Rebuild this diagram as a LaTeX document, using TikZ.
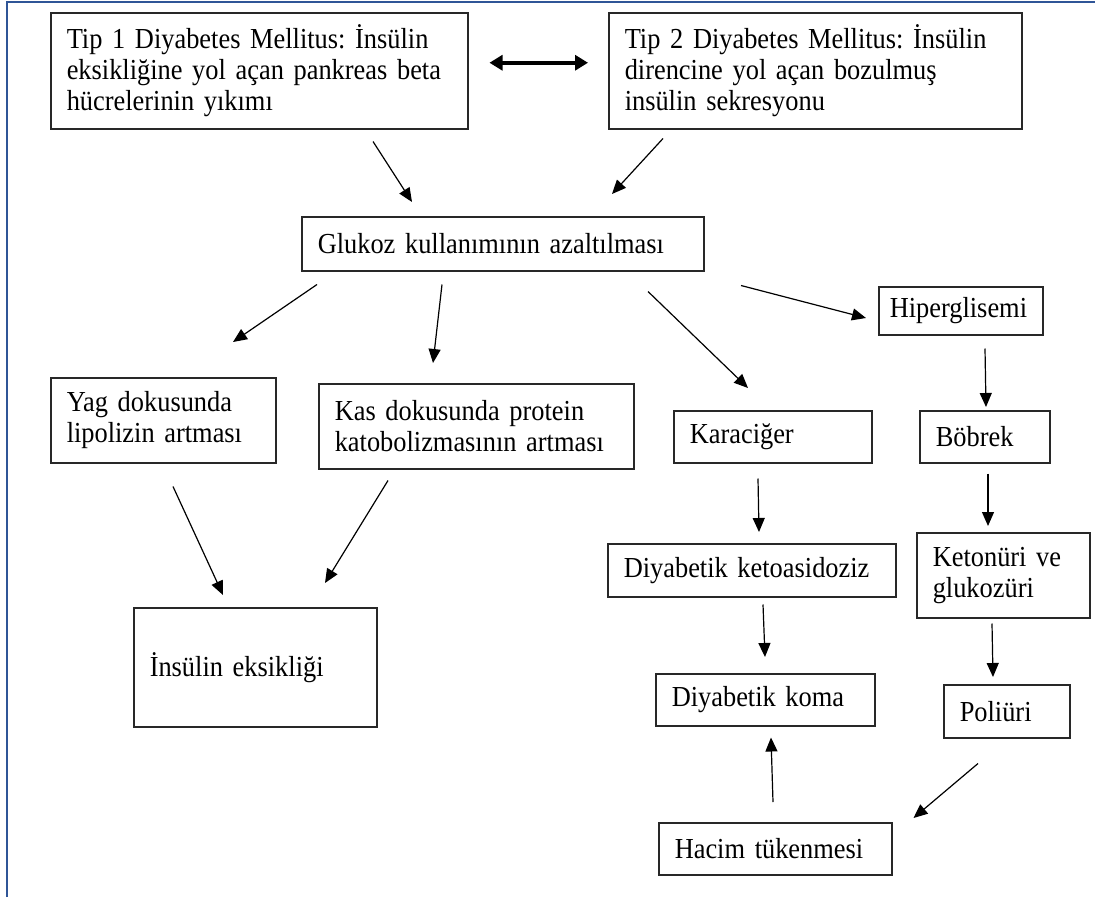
\documentclass[tikz,border=0pt]{standalone}
\usepackage{fontspec}
\setmainfont{Liberation Serif}[FakeStretch=0.91,WordSpace=0.9]
\usepackage{tikz}
\usetikzlibrary{arrows.meta}

\definecolor{frameblue}{RGB}{47,85,151}
\tikzset{
  box/.style={draw={rgb,255:red,40;green,40;blue,40}, line width=1.5pt, anchor=north west,
    inner xsep=16pt, inner ysep=0pt, align=left, font=\fontsize{29}{31}\selectfont\frenchspacing},
  arr/.style={line width=1.2pt, -{Triangle[length=14pt,width=12pt]}},
  dblarr/.style={line width=3.5pt, {Triangle[length=13pt,width=15pt]}-{Triangle[length=13pt,width=15pt]}}
}

\begin{document}
\begin{tikzpicture}[x=1pt,y=1pt,yscale=-1,xscale=1]
        \useasboundingbox (0,0) rectangle (1095,897);
        %Frame lines
        \draw [color=frameblue, line width=2.5pt] (7,897) -- (7,2) -- (1095,2) ;
        % Top boxes
        \node [box, text width=385pt, minimum height=116pt] (tip1) at (50,12)
            {Tip 1 Diyabetes Mellitus: İnsülin\\eksikliğine yol açan pankreas beta\\hücrelerinin yıkımı};
        \node [box, text width=381pt, minimum height=116pt] (tip2) at (608,12)
            {Tip 2 Diyabetes Mellitus: İnsülin\\direncine yol açan bozulmuş\\insülin sekresyonu};
        \node [box, text width=370pt, minimum height=54pt] (gluk) at (301,216) {Glukoz kullanımının azaltılması};
        % Middle row
        \node [box, inner xsep=11pt, text width=142pt, minimum height=48pt] (hiper) at (878,286) {Hiperglisemi};
        \node [box, text width=193pt, minimum height=85pt] (yag) at (50,377) {Yag dokusunda\\lipolizin artması};
        \node [box, text width=283pt, minimum height=85pt] (kas) at (318,383) {Kas dokusunda protein\\katobolizmasının artması};
        \node [box, text width=166pt, minimum height=52pt] (karac) at (673,410) {Karaciğer};
        \node [box, text width=98pt, minimum height=52pt] (bobrek) at (919,410) {Böbrek};
        % Lower boxes
        \node [box, text width=211pt, minimum height=119pt] (ins) at (133,607) {İnsülin eksikliği};
        \node [box, text width=256pt, minimum height=53pt] (keto) at (607,543) {Diyabetik ketoasidoziz};
        \node [box, text width=141pt, minimum height=85pt] (ketonuri) at (916,532) {Ketonüri ve\\glukozüri};
        \node [box, text width=187pt, minimum height=52pt] (koma) at (655,673) {Diyabetik koma};
        \node [box, text width=94pt, minimum height=53pt] (poliuri) at (943,684) {Poliüri};
        \node [box, text width=201pt, minimum height=52pt] (hacim) at (658,822) {Hacim tükenmesi};
        % Arrows
        \draw [dblarr] ([shift={(21,-8)}]tip1.east) -- ([shift={(-20,-8)}]tip2.west) ;
        \draw [arr] ([shift={(323,12)}]tip1.south west) -- ([shift={(111,-14)}]gluk.north west) ;
        \draw [arr] ([shift={(55,9)}]tip2.south west) -- ([shift={(311,-22)}]gluk.north west) ;
        \draw [arr] ([shift={(16,13)}]gluk.south west) -- ([shift={(183,-35)}]yag.north west) ;
        \draw [arr] ([shift={(141,13)}]gluk.south west) -- ([shift={(115,-20)}]kas.north west) ;
        \draw [arr] ([shift={(347,20)}]gluk.south west) -- ([shift={(75,-22)}]karac.north west) ;
        \draw [arr] ([shift={(440,14)}]gluk.south west) -- ([shift={(-12,32)}]hiper.north west) ;
        \draw [arr] ([shift={(107,13)}]hiper.south west) -- ([shift={(67,-3)}]bobrek.north west) ;
        \draw [arr] ([shift={(123,23)}]yag.south west) -- ([shift={(90,-12)}]ins.north west) ;
        \draw [arr] ([shift={(70,11)}]kas.south west) -- ([shift={(192,-24)}]ins.north west) ;
        \draw [arr] ([shift={(85,15)}]karac.south west) -- ([shift={(152,-11)}]keto.north west) ;
        \draw [arr] ([shift={(69,10)}]bobrek.south west) -- ([shift={(72,-6)}]ketonuri.north west) ;
        \draw [arr] ([shift={(156,7)}]keto.south west) -- ([shift={(110,-16)}]koma.north west) ;
        \draw [arr] ([shift={(76,5)}]ketonuri.south west) -- ([shift={(50,-7)}]poliuri.north west) ;
        \draw [arr] ([shift={(115,-20)}]hacim.north west) -- ([shift={(116,11)}]koma.south west) ;
        \draw [arr] ([shift={(35,25)}]poliuri.south west) -- ([shift={(21,-4)}]hacim.north east) ;
\end{tikzpicture}
\end{document}
